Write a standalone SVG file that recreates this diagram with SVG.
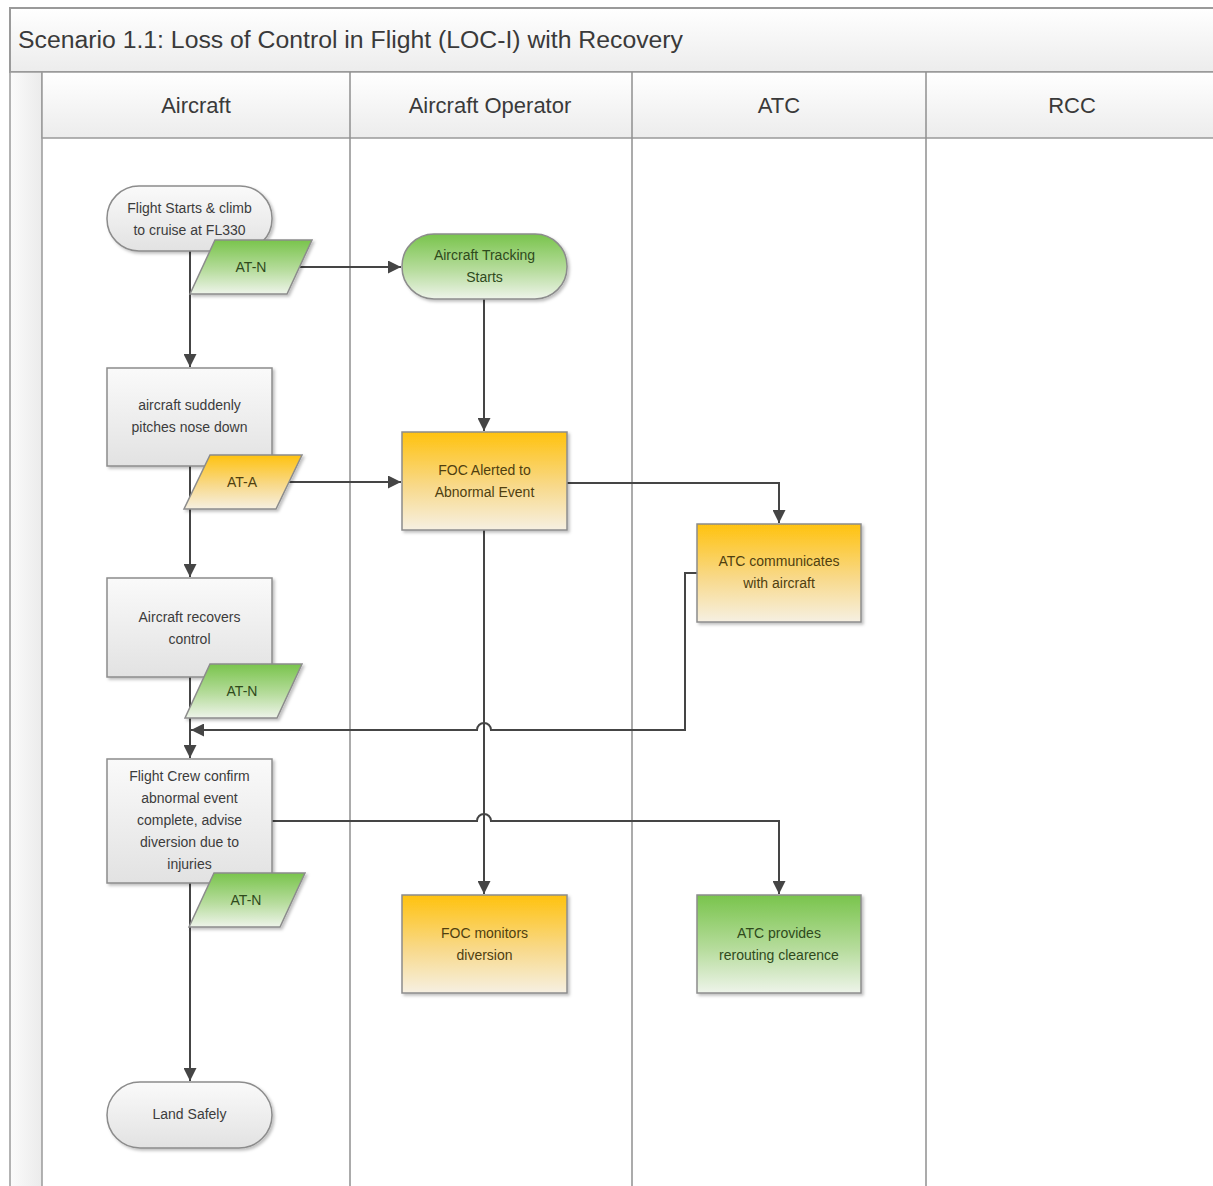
<svg xmlns="http://www.w3.org/2000/svg" width="1213" height="1186" viewBox="0 0 1213 1186">
<style>
  .title{font-family:"Liberation Sans",Arial,sans-serif;font-size:23px;fill:#3a3a3a}
  .hdr{font-family:"Liberation Sans",Arial,sans-serif;font-size:22px;fill:#3a3a3a;text-anchor:middle}
  .t{font-family:"Liberation Sans",Arial,sans-serif;font-size:14px;text-anchor:middle}
  .tg{fill:#3c3c3c}
  .to{fill:#4f3f10}
  .tn{fill:#2f4a1c}
  .gray{fill:url(#gGray);stroke:#8c8c8c;stroke-width:1.5;filter:url(#sh)}
  .orange{fill:url(#gOrange);stroke:#8c8c8c;stroke-width:1.5;filter:url(#sh)}
  .green{fill:url(#gGreen);stroke:#8c8c8c;stroke-width:1.5;filter:url(#sh)}
  .lane{stroke:#8f8f8f;stroke-width:1.5;fill:none}
  .conn{stroke:#454545;stroke-width:2;fill:none}
</style>
<defs>
  <linearGradient id="gGray" x1="0" y1="0" x2="0" y2="1">
    <stop offset="0" stop-color="#fafafa"/>
    <stop offset="1" stop-color="#e2e2e2"/>
  </linearGradient>
  <linearGradient id="gOrange" x1="0" y1="0" x2="0" y2="1">
    <stop offset="0" stop-color="#ffc20e"/>
    <stop offset="0.55" stop-color="#f8d98a"/>
    <stop offset="1" stop-color="#f6f0e2"/>
  </linearGradient>
  <linearGradient id="gGreen" x1="0" y1="0" x2="0" y2="1">
    <stop offset="0" stop-color="#79c44c"/>
    <stop offset="0.55" stop-color="#b6dc9c"/>
    <stop offset="1" stop-color="#eef4ea"/>
  </linearGradient>
  <linearGradient id="gHead" x1="0" y1="0" x2="0" y2="1">
    <stop offset="0" stop-color="#ffffff"/>
    <stop offset="1" stop-color="#ececec"/>
  </linearGradient>
  <linearGradient id="gStrip" x1="0" y1="0" x2="1" y2="0">
    <stop offset="0" stop-color="#fbfbfb"/>
    <stop offset="1" stop-color="#ebebeb"/>
  </linearGradient>
  <filter id="sh" x="-10%" y="-10%" width="130%" height="130%">
    <feDropShadow dx="2" dy="2" stdDeviation="1.5" flood-color="#000" flood-opacity="0.25"/>
  </filter>
  <marker id="arr" viewBox="0 0 10 10" refX="10" refY="5" markerWidth="6.5" markerHeight="6.5" orient="auto" markerUnits="strokeWidth">
    <path d="M0,0 L10,5 L0,10 z" fill="#454545"/>
  </marker>
</defs>

<rect width="1213" height="1186" fill="#ffffff"/>

<g id="pool">
  <rect x="10" y="8" width="1210" height="64" fill="url(#gHead)" stroke="#9a9a9a" stroke-width="2"/>
  <text class="title" x="18" y="48" textLength="665" lengthAdjust="spacingAndGlyphs">Scenario 1.1: Loss of Control in Flight (LOC-I) with Recovery</text>
  <rect x="10" y="72" width="32" height="1120" fill="url(#gStrip)" stroke="#9a9a9a" stroke-width="1.5"/>
  <rect x="42" y="72" width="1180" height="66" fill="url(#gHead)" stroke="#9a9a9a" stroke-width="1.5"/>
  <line class="lane" x1="350" y1="72" x2="350" y2="1190"/>
  <line class="lane" x1="632" y1="72" x2="632" y2="1190"/>
  <line class="lane" x1="926" y1="72" x2="926" y2="1190"/>
  <text class="hdr" x="196" y="113">Aircraft</text>
  <text class="hdr" x="490" y="113">Aircraft Operator</text>
  <text class="hdr" x="779" y="113">ATC</text>
  <text class="hdr" x="1072" y="113">RCC</text>
</g>

<g id="connectors">
  <line class="conn" x1="190" y1="251" x2="190" y2="367" marker-end="url(#arr)"/>
  <line class="conn" x1="190" y1="466" x2="190" y2="577" marker-end="url(#arr)"/>
  <line class="conn" x1="190" y1="677" x2="190" y2="758" marker-end="url(#arr)"/>
  <line class="conn" x1="190" y1="883" x2="190" y2="1081" marker-end="url(#arr)"/>
  <line class="conn" x1="297" y1="267" x2="401" y2="267" marker-end="url(#arr)"/>
  <line class="conn" x1="484" y1="299" x2="484" y2="431" marker-end="url(#arr)"/>
  <line class="conn" x1="287" y1="482" x2="401" y2="482" marker-end="url(#arr)"/>
  <path class="conn" d="M566,483 H779 V523" marker-end="url(#arr)"/>
  <line class="conn" x1="484" y1="530" x2="484" y2="894" marker-end="url(#arr)"/>
  <path class="conn" d="M697,573 H685 V730 H491 A7,7 0 0 0 477,730 H191" marker-end="url(#arr)"/>
  <path class="conn" d="M272,821 H477 A7,7 0 0 1 491,821 H779 V894" marker-end="url(#arr)"/>
</g>

<g id="n-start">
  <rect class="gray" x="107" y="186" width="165" height="65" rx="32" ry="32"/>
  <text class="t tg" x="189.5" y="213">Flight Starts &amp; climb</text>
  <text class="t tg" x="189.5" y="235">to cruise at FL330</text>
</g>
<g id="n-atn1">
  <polygon class="green" points="215,240 312,240 287,294 190,294"/>
  <text class="t tn" x="251" y="272">AT-N</text>
</g>
<g id="n-tracking">
  <rect class="green" x="402" y="234" width="165" height="65" rx="32" ry="32"/>
  <text class="t tn" x="484.5" y="260">Aircraft Tracking</text>
  <text class="t tn" x="484.5" y="282">Starts</text>
</g>
<g id="n-pitch">
  <rect class="gray" x="107" y="368" width="165" height="98"/>
  <text class="t tg" x="189.5" y="410">aircraft suddenly</text>
  <text class="t tg" x="189.5" y="432">pitches nose down</text>
</g>
<g id="n-ata">
  <polygon class="orange" points="210,455 302,455 276,509 184,509"/>
  <text class="t to" x="242" y="487">AT-A</text>
</g>
<g id="n-foc-alert">
  <rect class="orange" x="402" y="432" width="165" height="98"/>
  <text class="t to" x="484.5" y="475">FOC Alerted to</text>
  <text class="t to" x="484.5" y="497">Abnormal Event</text>
</g>
<g id="n-atc-comm">
  <rect class="orange" x="697" y="524" width="164" height="98"/>
  <text class="t to" x="779" y="566">ATC communicates</text>
  <text class="t to" x="779" y="588">with aircraft</text>
</g>
<g id="n-recover">
  <rect class="gray" x="107" y="578" width="165" height="99"/>
  <text class="t tg" x="189.5" y="622">Aircraft recovers</text>
  <text class="t tg" x="189.5" y="644">control</text>
</g>
<g id="n-atn2">
  <polygon class="green" points="210,664 302,664 277,718 185,718"/>
  <text class="t tn" x="242" y="696">AT-N</text>
</g>
<g id="n-crew">
  <rect class="gray" x="107" y="759" width="165" height="124"/>
  <text class="t tg" x="189.5" y="781">Flight Crew confirm</text>
  <text class="t tg" x="189.5" y="803">abnormal event</text>
  <text class="t tg" x="189.5" y="825">complete, advise</text>
  <text class="t tg" x="189.5" y="847">diversion due to</text>
  <text class="t tg" x="189.5" y="869">injuries</text>
</g>
<g id="n-atn3">
  <polygon class="green" points="214,873 305,873 280,927 189,927"/>
  <text class="t tn" x="246" y="905">AT-N</text>
</g>
<g id="n-foc-mon">
  <rect class="orange" x="402" y="895" width="165" height="98"/>
  <text class="t to" x="484.5" y="938">FOC monitors</text>
  <text class="t to" x="484.5" y="960">diversion</text>
</g>
<g id="n-atc-reroute">
  <rect class="green" x="697" y="895" width="164" height="98"/>
  <text class="t tn" x="779" y="938">ATC provides</text>
  <text class="t tn" x="779" y="960">rerouting clearence</text>
</g>
<g id="n-land">
  <rect class="gray" x="107" y="1082" width="165" height="66" rx="33" ry="33"/>
  <text class="t tg" x="189.5" y="1119">Land Safely</text>
</g>
</svg>
